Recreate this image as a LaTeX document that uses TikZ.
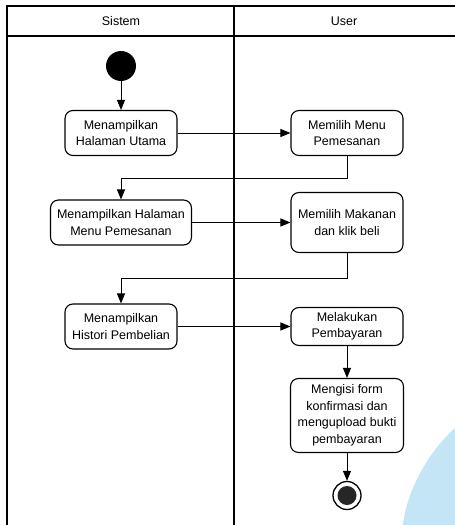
\documentclass[tikz,border=0pt]{standalone}
\usepackage{fontspec}
\setmainfont{Liberation Sans}
\usepackage{tikz}
\usetikzlibrary{positioning, arrows.meta}

\definecolor{blob}{RGB}{196,229,245}

\begin{document}
\begin{tikzpicture}[x=1pt,y=1pt,on grid,
    act/.style={draw,line width=1.1pt,rounded corners=8pt,align=center,
        font=\fontsize{12.5}{16.5}\selectfont,inner sep=2pt},
    lane/.style={line width=1.3pt},
    flow/.style={-{Triangle[length=10pt,width=8pt]},line width=1pt}]
    \useasboundingbox (0,0) rectangle (455,-525);
    \fill[blob] (455,-428) .. controls (425,-455) and (406,-495) .. (403,-525) -- (455,-525) -- cycle;

    % swimlanes
    \draw[lane] (455,-6) -- (7,-6) -- (7,-525);
    \draw[lane] (7,-36) -- (455,-36);
    \draw[lane] (234,-6) -- (234,-525);
    \node (sistem) at (121,-21) {\fontsize{12.5}{15}\selectfont Sistem};
    \node (user) at (344,-21) {\fontsize{12.5}{15}\selectfont User};

    \node[circle,fill=black,minimum size=30pt,inner sep=0pt] (start) at (121,-66) {};
    \node[act,minimum width=112pt,minimum height=45pt] (tampil1) at (121,-133) {Menampilkan\\Halaman Utama};
    \node[act,minimum width=112pt,minimum height=45pt] (pilih1) [right=226pt of tampil1] {Memilih Menu\\Pemesanan};
    \node[act,minimum width=141pt,minimum height=45pt] (tampil2) at (121,-222.5) {Menampilkan Halaman\\Menu Pemesanan};
    \node[act,minimum width=112pt,minimum height=60pt] (pilih2) [right=226pt of tampil2] {Memilih Makanan\\dan klik beli};
    \node[act,minimum width=112pt,minimum height=45pt] (tampil3) at (121,-326.5) {Menampilkan\\Histori Pembelian};
    \node[act,minimum width=112pt,minimum height=38pt] (bayar) [right=226pt of tampil3] {Melakukan\\Pembayaran};
    \node[act,minimum width=113pt,minimum height=74pt] (isi) [below=89pt of bayar] {Mengisi form\\konfirmasi dan\\mengupload bukti\\pembayaran};
    \node[circle,draw,line width=1.3pt,minimum size=28pt,inner sep=0pt] (end) [below=80pt of isi] {};
    \fill[black!85] (end.center) circle (9.5pt);

    \draw[flow] (start) -- (tampil1);
    \draw[flow] (tampil1) -- (pilih1);
    \draw[flow] (pilih1.south) -- ++(0,-22) -| (tampil2);
    \draw[flow] (tampil2) -- (pilih2);
    \draw[flow] (pilih2.south) -- ++(0,-25) -| (tampil3);
    \draw[flow] (tampil3) -- (bayar);
    \draw[flow] (bayar) -- (isi);
    \draw[flow] (isi) -- (end);
\end{tikzpicture}
\end{document}
